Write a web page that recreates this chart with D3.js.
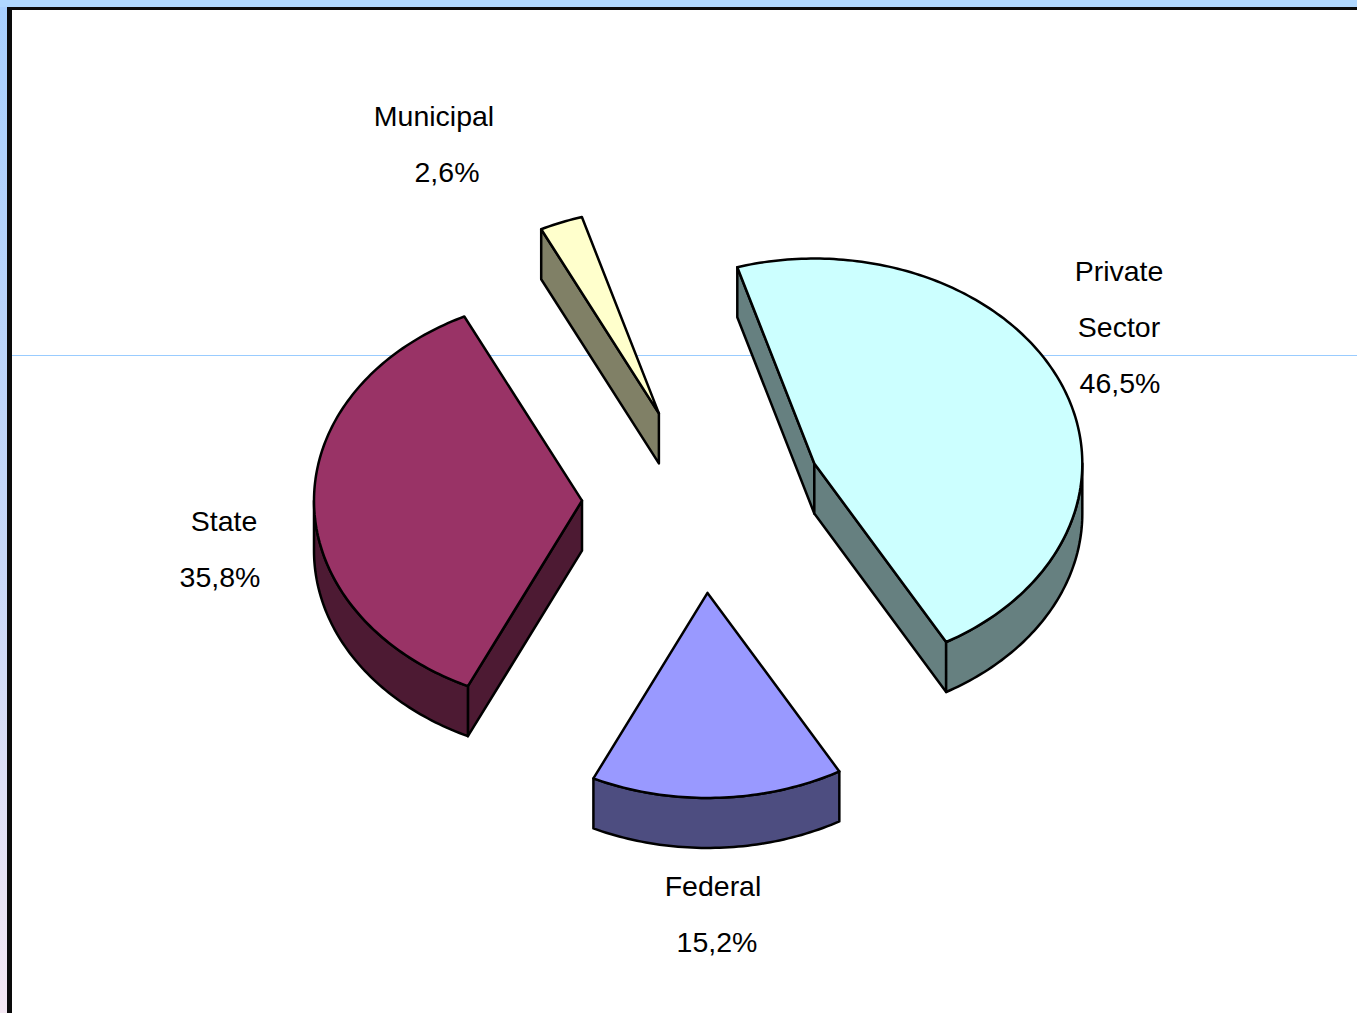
<!DOCTYPE html>
<html>
<head>
<meta charset="utf-8">
<script src="https://cdn.jsdelivr.net/npm/d3@7"></script>
<style>
  html, body { margin: 0; padding: 0; background: #ffffff; }
  svg { display: block; }
</style>
</head>
<body>
<script>
// ---- data ----
const categories = ["Private Sector", "Federal", "State", "Municipal"];
const values = [46.5, 15.2, 35.8, 2.6];
const labelLines = [["Private", "Sector", "46,5%"], ["Federal", "15,2%"], ["State", "35,8%"], ["Municipal", "2,6%"]];
const topColors = ["#ccffff", "#9999ff", "#993366", "#ffffcc"];
const sideColors = ["#668080", "#4d4d80", "#4d1a33", "#808066"];

// ---- layout ----
const W = 1357, H = 1013;
const cx = 703, cy = 500, rx = 268, ry = 205, depth = 50;
const explodeX = 121, explodeY = 93;
const startDeg = -16.7;
const labelLayout = [
  {xs: [1119, 1119, 1120], y0: 281},
  {xs: [713, 717], y0: 896},
  {xs: [224, 220], y0: 531},
  {xs: [434, 447], y0: 126}
];
const lineGap = 56;

const svg = d3.select("body").append("svg").attr("width", W).attr("height", H);

// frame
const defs = svg.append("defs");
const lg = defs.append("linearGradient").attr("id", "lband").attr("x1", 0).attr("y1", 0).attr("x2", 0).attr("y2", 1);
lg.append("stop").attr("offset", "0%").attr("stop-color", "#a8d0ff");
lg.append("stop").attr("offset", "55%").attr("stop-color", "#c8d8f8");
lg.append("stop").attr("offset", "100%").attr("stop-color", "#f4e8f4");
svg.append("rect").attr("x", 0).attr("y", 0).attr("width", W).attr("height", H).attr("fill", "#ffffff");
svg.append("rect").attr("x", 0).attr("y", 0).attr("width", 7).attr("height", H).attr("fill", "url(#lband)");
svg.append("rect").attr("x", 0).attr("y", 0).attr("width", W).attr("height", 7).attr("fill", "#b0d8ff");
svg.append("rect").attr("x", 7).attr("y", 7).attr("width", W - 7).attr("height", 3).attr("fill", "#0a0a0a");
svg.append("rect").attr("x", 7).attr("y", 7).attr("width", 5).attr("height", H - 7).attr("fill", "#0a0a0a");
svg.append("rect").attr("x", 12).attr("y", 355).attr("width", W - 12).attr("height", 1)
  .attr("fill", "#99ccff").attr("shape-rendering", "crispEdges");

// pie
const pie = d3.pie().sort(null).value(d => d.v)
  .startAngle(startDeg * Math.PI / 180).endAngle(startDeg * Math.PI / 180 + 2 * Math.PI);
const arcs = pie(values.map((v, i) => ({v, i})));

function pt(a, ox, oy, dz) {
  return [cx + ox + rx * Math.sin(a), cy + oy - ry * Math.cos(a) + dz];
}
function arcPts(a0, a1, ox, oy, dz) {
  const n = Math.max(2, Math.ceil(Math.abs(a1 - a0) / (Math.PI / 180)));
  const out = [];
  for (let k = 0; k <= n; k++) out.push(pt(a0 + (a1 - a0) * k / n, ox, oy, dz));
  return out;
}
const line = d3.line().curve(d3.curveLinear);

const g = svg.append("g").attr("stroke", "#000").attr("stroke-width", 2.5).attr("stroke-linejoin", "round");

const order = [3, 0, 2, 1];
order.forEach(i => {
  const s = arcs[i];
  const a0 = s.startAngle, a1 = s.endAngle, m = (a0 + a1) / 2;
  const ox = explodeX * Math.sin(m), oy = -explodeY * Math.cos(m);
  const c0 = [cx + ox, cy + oy], c1 = [cx + ox, cy + oy + depth];
  if (Math.sin(a0) < 0) {
    const p = pt(a0, ox, oy, 0), q = pt(a0, ox, oy, depth);
    g.append("path").attr("d", line([c0, p, q, c1]) + "Z").attr("fill", sideColors[i]);
  }
  if (Math.sin(a1) > 0) {
    const p = pt(a1, ox, oy, 0), q = pt(a1, ox, oy, depth);
    g.append("path").attr("d", line([c0, p, q, c1]) + "Z").attr("fill", sideColors[i]);
  }
  [0, 2 * Math.PI, -2 * Math.PI].forEach(sh => {
    const lo = Math.max(a0, Math.PI / 2 + sh), hi = Math.min(a1, 3 * Math.PI / 2 + sh);
    if (hi > lo) {
      const topP = arcPts(lo, hi, ox, oy, 0);
      const botP = arcPts(hi, lo, ox, oy, depth);
      g.append("path").attr("d", line(topP.concat(botP)) + "Z").attr("fill", sideColors[i]);
    }
  });
  const topPts = [c0].concat(arcPts(a0, a1, ox, oy, 0));
  g.append("path").attr("d", line(topPts) + "Z").attr("fill", topColors[i]);
});

// labels
labelLines.forEach((lines, i) => {
  const L = labelLayout[i];
  lines.forEach((t, j) => {
    svg.append("text").attr("x", L.xs[j]).attr("y", L.y0 + j * lineGap)
      .attr("text-anchor", "middle")
      .attr("font-family", "Liberation Sans, Arial, sans-serif")
      .attr("font-size", 28.5).attr("fill", "#000").text(t);
  });
});
</script>
</body>
</html>
